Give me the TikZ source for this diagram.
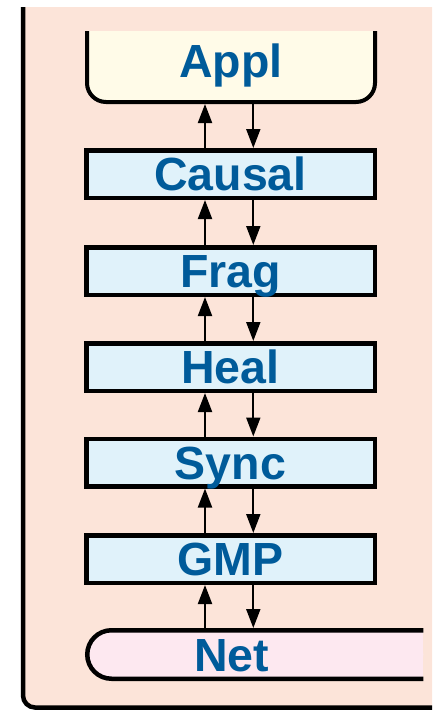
\documentclass[tikz,border=0pt]{standalone}
\usepackage{fontspec}
\setmainfont{Liberation Sans}
\usetikzlibrary{arrows.meta}

\definecolor{bgpeach}{RGB}{252,228,217}
\definecolor{applfill}{RGB}{255,251,232}
\definecolor{layerfill}{RGB}{224,242,250}
\definecolor{netfill}{RGB}{253,232,240}
\definecolor{labelblue}{RGB}{0,91,154}

\tikzset{
  lbl/.style={inner sep=0pt, text height=33.3pt, text depth=0pt,
    text=labelblue, font=\fontsize{46.5}{50}\selectfont\bfseries},
  layer/.style={lbl, draw=black, line width=4.5pt, fill=layerfill,
    minimum width=288.5pt, minimum height=47.5pt},
  ghost/.style={inner sep=0pt, outer sep=0pt},
  flow/.style={line width=2pt, -{Triangle[length=19pt,width=14pt]}},
  frame/.style={line width=4.5pt, draw=black},
}

\begin{document}
\begin{tikzpicture}[x=1pt,y=-1pt]
\useasboundingbox (0,0) rectangle (432,710);

% enclosing panel
\fill[bgpeach] (432,7) -- (23,7) [rounded corners=12pt] -- (23,707.5)
  [sharp corners] -- (432,707.5) -- cycle;
\draw[frame, rounded corners=12pt] (23,7) -- (23,707.5) -- (432,707.5);

% application layer (open at the top)
\filldraw[fill=applfill, draw=black, line width=4pt, rounded corners=19pt]
  (87,31) -- (87,102) -- (375,102) -- (375,31);
\node[ghost, minimum width=292pt, minimum height=73pt] (appl) at (231,67.5) {};
\node[lbl] (appltext) at (231,60.5) {Appl};

% protocol layers
\node[layer] (causal) at (230.5,174)   {Causal};
\node[layer] (frag)   at (230.5,271)   {Frag};
\node[layer] (heal)   at (230.5,367)   {Heal};
\node[layer] (sync)   at (230.5,462.5) {Sync};
\node[layer] (gmp)    at (230.5,559)   {GMP};

% network layer (runs off to the right)
\fill[netfill, rounded corners=24.25pt]
  (423.3,630.25) -- (87.25,630.25) -- (87.25,678.75) -- (423.3,678.75) -- cycle;
\fill[netfill] (380,630.25) rectangle (423.3,678.75);
\draw[line width=4.5pt, rounded corners=24.25pt]
  (423.3,630.25) -- (87.25,630.25) -- (87.25,678.75) -- (423.3,678.75);
\node[ghost, minimum width=338pt, minimum height=53pt] (net) at (254.2,654.5) {};
\node[lbl] (nettext) at (231.5,654.5) {Net};

% columns for upward and downward traffic
\coordinate (ux) at (205,0);
\coordinate (dx) at (253.3,0);

% upward arrows
\draw[flow] (ux |- causal.north) -- (ux |- appl.south);
\draw[flow] (ux |- frag.north)   -- (ux |- causal.south);
\draw[flow] (ux |- heal.north)   -- (ux |- frag.south);
\draw[flow] (ux |- sync.north)   -- (ux |- heal.south);
\draw[flow] (ux |- gmp.north)    -- (ux |- sync.south);
\draw[flow] (ux |- net.north)    -- (ux |- gmp.south);

% downward arrows
\draw[flow] (dx |- appl.south)   -- (dx |- causal.north);
\draw[flow] (dx |- causal.south) -- (dx |- frag.north);
\draw[flow] (dx |- frag.south)   -- (dx |- heal.north);
\draw[flow] (dx |- heal.south)   -- (dx |- sync.north);
\draw[flow] (dx |- sync.south)   -- (dx |- gmp.north);
\draw[flow] (dx |- gmp.south)    -- (dx |- net.north);
\end{tikzpicture}
\end{document}
